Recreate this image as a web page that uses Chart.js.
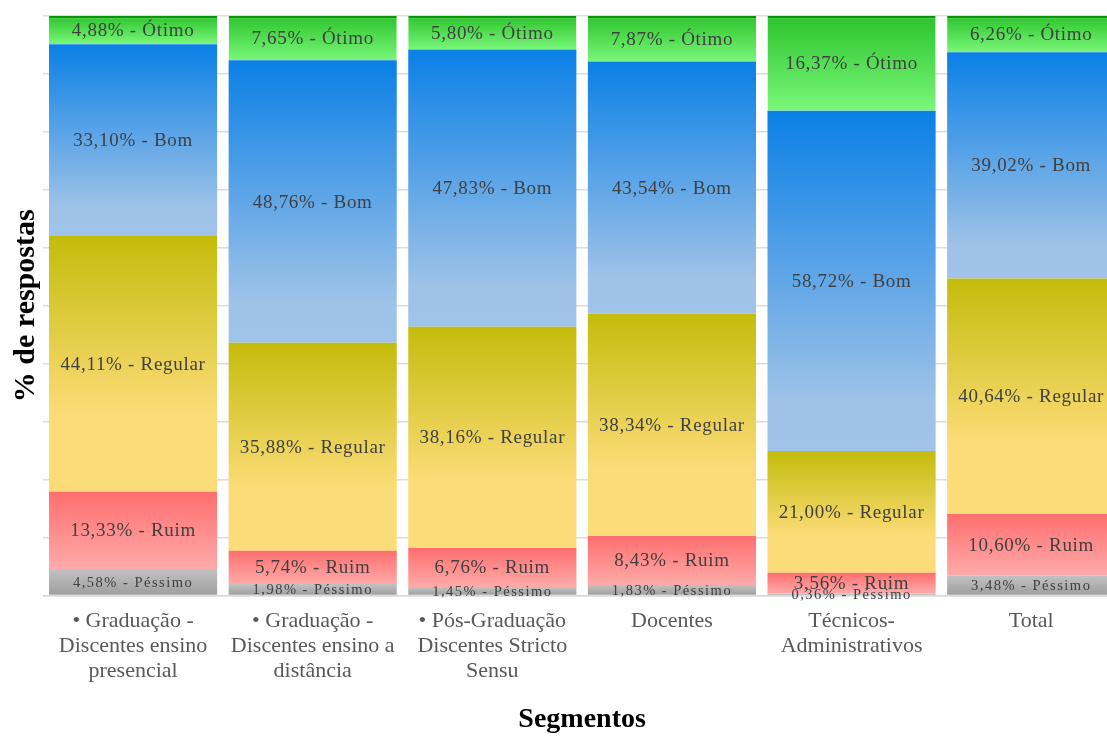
<!DOCTYPE html>
<html>
<head>
<meta charset="utf-8">
<script src="https://cdn.jsdelivr.net/npm/chart.js@4/dist/chart.umd.min.js"></script>
<style>
  html, body { margin: 0; padding: 0; background: #fff; overflow: hidden; }
  canvas { display: block; }
</style>
</head>
<body>
<canvas id="Segmentos_Chart" width="1121" height="737"></canvas>
<script>
// categorias (eixo x)
const categorias = [
    ['• Graduação -', 'Discentes ensino', 'presencial'],
    ['• Graduação -', 'Discentes ensino a', 'distância'],
    ['• Pós-Graduação', 'Discentes Stricto', 'Sensu'],
    ['Docentes'],
    ['Técnicos-', 'Administrativos'],
    ['Total']
];

// % de respostas por conceito
const pessimo = [4.58, 1.98, 1.45, 1.83, 0.36, 3.48];
const ruim    = [13.33, 5.74, 6.76, 8.43, 3.56, 10.60];
const regular = [44.11, 35.88, 38.16, 38.34, 21.00, 40.64];
const bom     = [33.10, 48.76, 47.83, 43.54, 58.72, 39.02];
const otimo   = [4.88, 7.65, 5.80, 7.87, 16.37, 6.26];

const series = [pessimo, ruim, regular, bom, otimo];
const nomes = ['Péssimo', 'Ruim', 'Regular', 'Bom', 'Ótimo'];

// cores do gradiente (topo -> base) de cada segmento
const gradientes = [
    [[0, '#c2c2c2'], [1, '#9e9e9e']],
    [[0, '#ff6e6e'], [1, '#ffaaaa']],
    [[0, '#c4bc0c'], [0.7, '#fcdc78'], [1, '#fcdc78']],
    [[0, '#0a80e6'], [0.85, '#9ec2e8'], [1, '#a0c4e8']],
    [[0, '#2cc42c'], [1, '#7af77a']]
];

const serif = '"Liberation Serif", "Times New Roman", serif';

function corSegmento(ctx) {
    const chart = ctx.chart;
    const stops = gradientes[ctx.datasetIndex];
    if (!chart.chartArea || ctx.type !== 'data') return stops[0][1];
    const y = chart.scales.y;
    let base = 0;
    for (let d = 0; d < ctx.datasetIndex; d++) base += series[d][ctx.dataIndex];
    const topo = base + series[ctx.datasetIndex][ctx.dataIndex];
    const y0 = y.getPixelForValue(Math.min(topo, 100));
    const y1 = y.getPixelForValue(base);
    if (!(y1 > y0)) return stops[0][1];
    const g = chart.ctx.createLinearGradient(0, y0, 0, y1);
    stops.forEach(s => g.addColorStop(s[0], s[1]));
    return g;
}

// rótulos "x,xx% - Nome" dentro das barras
const rotulosPlugin = {
    id: 'rotulos',
    afterDatasetsDraw(chart) {
        const ctx = chart.ctx;
        ctx.save();
        ctx.textAlign = 'center';
        ctx.textBaseline = 'middle';
        ctx.fillStyle = '#404040';
        chart.data.datasets.forEach((ds, i) => {
            const meta = chart.getDatasetMeta(i);
            const pequeno = i === 0;
            ctx.font = (pequeno ? '14.5px ' : '19px ') + serif;
            ctx.letterSpacing = pequeno ? '1.5px' : '0.7px';
            meta.data.forEach((el, j) => {
                const v = ds.data[j];
                const txt = v.toFixed(2).replace('.', ',') + '% - ' + nomes[i];
                ctx.fillText(txt, el.x, (el.y + el.base) / 2 + 1);
            });
        });
        ctx.letterSpacing = '0px';
        ctx.restore();
    }
};

const ctx = document.getElementById('Segmentos_Chart').getContext('2d');
const SegmentosChartInstance = new Chart(ctx, {
    type: 'bar',
    data: {
        labels: categorias,
        datasets: series.map((s, i) => ({
            label: nomes[i],
            data: s,
            backgroundColor: corSegmento,
            borderColor: '#009a00',
            borderWidth: i === 4 ? { top: 2.5, left: 0, right: 0, bottom: 0 } : 0,
            borderSkipped: false,
            categoryPercentage: 1,
            barPercentage: 0.936
        }))
    },
    options: {
        responsive: false,
        animation: false,
        layout: { padding: { top: 16, left: 0, right: 0, bottom: 0 } },
        plugins: {
            legend: { display: false },
            tooltip: { enabled: false }
        },
        scales: {
            x: {
                stacked: true,
                grid: { display: false, drawTicks: false },
                border: { display: true, color: '#d9d9d9', width: 1.5 },
                ticks: {
                    color: '#595959',
                    font: { family: serif, size: 22, lineHeight: 1.14 },
                    padding: 13,
                    maxRotation: 0,
                    autoSkip: false
                },
                title: {
                    display: true,
                    text: 'Segmentos',
                    color: '#000',
                    font: { family: serif, size: 28, weight: 'bold' },
                    padding: { top: 4, bottom: 0 }
                },
                afterFit: s => { s.height = 141.5; }
            },
            y: {
                stacked: true,
                min: 0,
                max: 100,
                ticks: { display: false, stepSize: 10 },
                grid: { color: '#dcdcdc', lineWidth: 1.5, drawTicks: false },
                border: { display: false },
                title: {
                    display: true,
                    text: '% de respostas',
                    color: '#000',
                    font: { family: serif, size: 30, weight: 'bold' },
                    padding: { top: 8, bottom: 0 }
                },
                afterFit: s => { s.width = 43.25; }
            }
        }
    },
    plugins: [rotulosPlugin]
});
</script>
</body>
</html>
